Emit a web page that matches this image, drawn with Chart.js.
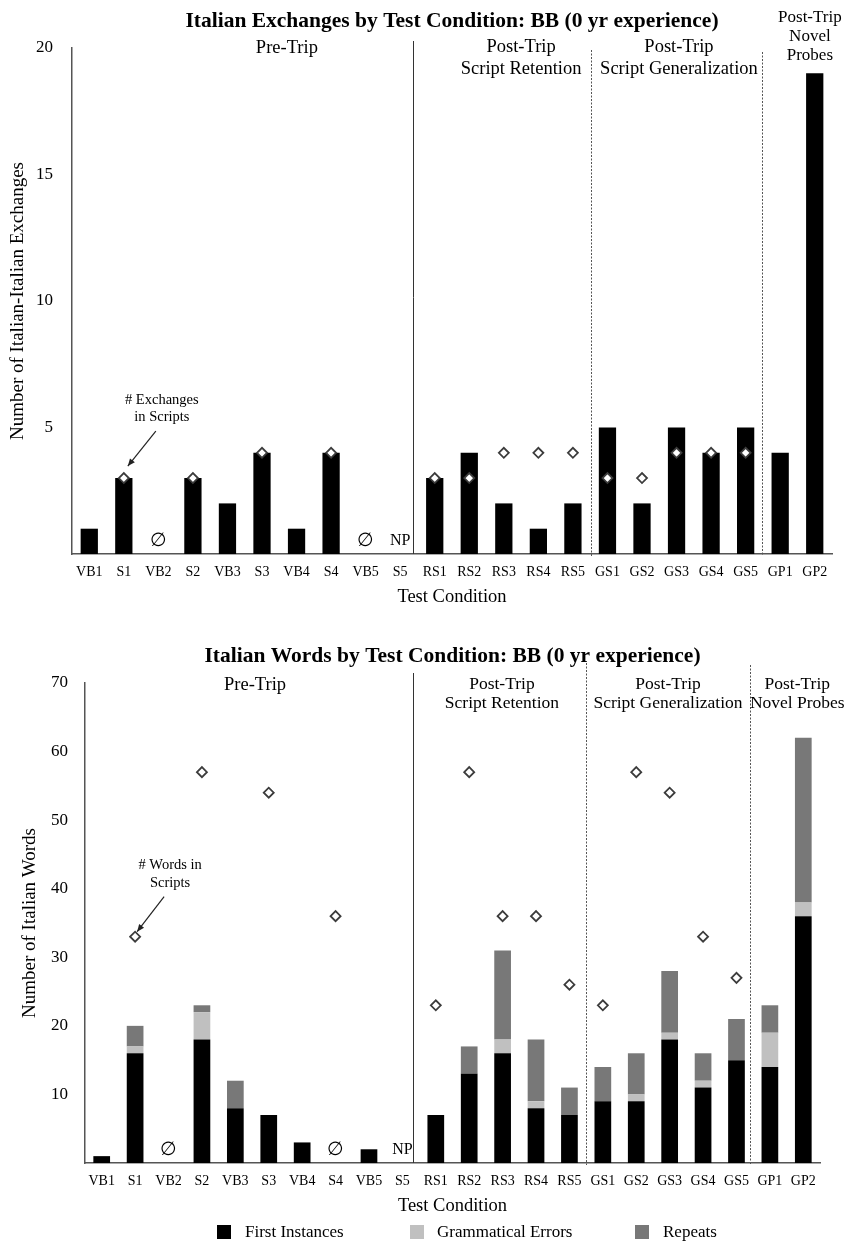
<!DOCTYPE html>
<html>
<head>
<meta charset="utf-8">
<title>Italian Exchanges and Words by Test Condition: BB</title>
<script src="https://cdn.jsdelivr.net/npm/chart.js@4.4.1/dist/chart.umd.min.js"></script>
<style>
  html, body { margin: 0; padding: 0; background: #fff; }
  #wrap { position: relative; width: 864px; height: 1243px; }
  canvas { position: absolute; left: 0; }
</style>
</head>
<body>
<div id="wrap">
  <canvas id="exchangesChart" width="864" height="620" style="top:0"></canvas>
  <canvas id="wordsChart" width="864" height="623" style="top:620px"></canvas>
</div>
<script>
// Test conditions along the x axis
const conditions = ['VB1','S1','VB2','S2','VB3','S3','VB4','S4','VB5','S5',
                    'RS1','RS2','RS3','RS4','RS5',
                    'GS1','GS2','GS3','GS4','GS5',
                    'GP1','GP2'];

// Italian-Italian exchanges produced, and exchanges contained in the scripts
const exchanges          = [1, 3, null, 3, 2, 4, 1, 4, null, null, 3, 4, 2, 1, 2, 5, 2, 5, 4, 5, 4, 19];
const exchangesInScripts = [null, 3, null, 3, null, 4, null, 4, null, null, 3, 3, 4, 4, 4, 3, 3, 4, 4, 4, null, null];
const exchangeNotes      = [null, null, '∅', null, null, null, null, null, '∅', 'NP', null, null, null, null, null, null, null, null, null, null, null, null];
const exchangeTicks      = [5, 10, 15, 20];

// Italian words produced, split by type, and words contained in the scripts
const firstInstances    = [1, 16, null, 18, 8, 7, 3, null, 2, null, 7, 13, 16, 8, 7, 9, 9, 18, 11, 15, 14, 36];
const grammaticalErrors = [0, 1, null, 4, 0, 0, 0, null, 0, null, 0, 0, 2, 1, 0, 0, 1, 1, 1, 0, 5, 2];
const repeats           = [0, 3, null, 1, 4, 0, 0, null, 0, null, 0, 4, 13, 9, 4, 5, 6, 9, 4, 6, 4, 24];
const wordsInScripts    = [null, 33, null, 57, null, 54, null, 36, null, null, 23, 57, 36, 36, 26, 23, 57, 54, 33, 27, null, null];
const wordNotes         = [null, null, '∅', null, null, null, null, '∅', null, 'NP', null, null, null, null, null, null, null, null, null, null, null, null];
const wordTicks         = [10, 20, 30, 40, 50, 60, 70];

const SERIF = "'Liberation Serif', 'Times New Roman', 'DejaVu Serif', serif";
const COLORS = { first: '#000000', gram: '#c0c0c0', repeat: '#787878', axis: '#555555' };

function font(size, weight) { return (weight || 'normal') + ' ' + size + 'px ' + SERIF; }

// Draws titles, section headers, dividers, markers, annotation and legend
function overlay(cfg) {
  return {
    id: 'overlay',
    afterDraw(chart) {
      const { ctx, chartArea: a } = chart;
      const x = chart.scales.x;
      const cx = (a.left + a.right) / 2;
      ctx.save();
      ctx.fillStyle = '#000';
      ctx.textAlign = 'center';
      ctx.textBaseline = 'middle';

      // chart title
      ctx.font = font(21.5, 'bold');
      ctx.fillText(cfg.title, cx, cfg.titleY);

      // section dividers
      cfg.dividers.forEach(d => {
        const px = Math.round(x.getPixelForValue(d.at)) + 0.5;
        ctx.beginPath();
        ctx.lineWidth = 1;
        ctx.strokeStyle = d.dotted ? '#555' : '#333';
        ctx.setLineDash(d.dotted ? [2, 1.5] : []);
        ctx.moveTo(px, d.top);
        ctx.lineTo(px, a.bottom + (d.dotted ? 2 : 0));
        ctx.stroke();
      });
      ctx.setLineDash([]);

      // section headers
      cfg.sections.forEach(s => {
        ctx.font = font(s.size);
        const px = x.getPixelForValue(s.at);
        s.lines.forEach((t, i) => ctx.fillText(t, px, s.y + i * s.gap));
      });

      // no-response / not-presented markers
      cfg.notes.forEach((n, i) => {
        if (!n) return;
        ctx.font = n === 'NP' ? font(16) : font(19);
        ctx.fillText(n, x.getPixelForValue(i), a.bottom - 13);
      });

      // annotation pointing at the first script marker
      const meta = chart.getDatasetMeta(cfg.scriptDataset);
      const pt = meta.data[1];
      const an = cfg.annotation;
      ctx.font = font(an.size);
      an.lines.forEach((t, i) => ctx.fillText(t, pt.x + an.dx, pt.y + an.dy + i * an.gap));
      const sx = pt.x + an.from[0], sy = pt.y + an.from[1];
      const ex = pt.x + an.to[0], ey = pt.y + an.to[1];
      ctx.strokeStyle = '#222';
      ctx.lineWidth = 1.2;
      ctx.beginPath();
      ctx.moveTo(sx, sy);
      ctx.lineTo(ex, ey);
      ctx.stroke();
      const ang = Math.atan2(ey - sy, ex - sx);
      ctx.beginPath();
      ctx.moveTo(ex, ey);
      ctx.lineTo(ex - 8 * Math.cos(ang - 0.4), ey - 8 * Math.sin(ang - 0.4));
      ctx.lineTo(ex - 8 * Math.cos(ang + 0.4), ey - 8 * Math.sin(ang + 0.4));
      ctx.closePath();
      ctx.fillStyle = '#222';
      ctx.fill();
      ctx.fillStyle = '#000';

      // axis titles
      ctx.font = font(18.5);
      ctx.fillText('Test Condition', cx, cfg.xTitleY);
      ctx.save();
      ctx.translate(cfg.yTitleX, (a.top + a.bottom) / 2);
      ctx.rotate(-Math.PI / 2);
      ctx.font = font(19);
      ctx.fillText(cfg.yTitle, 0, 0);
      ctx.restore();

      // legend
      if (cfg.legend) {
        ctx.font = font(17);
        ctx.textAlign = 'left';
        cfg.legend.items.forEach(it => {
          const ds = chart.data.datasets[it.dataset];
          ctx.fillStyle = ds.backgroundColor;
          ctx.fillRect(it.box, cfg.legend.y - 7, 14, 14);
          ctx.fillStyle = '#000';
          ctx.fillText(ds.label, it.text, cfg.legend.y + 1);
        });
      }
      ctx.restore();
    }
  };
}

function yScale(max, ticks, width, pad) {
  return {
    min: 0, max: max,
    grid: { display: false },
    border: { display: true, color: COLORS.axis, width: 1.5 },
    afterBuildTicks: s => { s.ticks = ticks.map(v => ({ value: v })); },
    afterFit: s => { s.width = width; },
    ticks: { font: { family: SERIF, size: 17 }, color: '#000', padding: pad }
  };
}

function xScale(height, stacked) {
  return {
    stacked: stacked,
    grid: { display: false },
    border: { display: true, color: COLORS.axis, width: 1.5 },
    afterFit: s => { s.height = height; },
    ticks: { font: { family: SERIF, size: 14 }, color: '#000', padding: 2, maxRotation: 0, autoSkip: false }
  };
}

function scriptMarkers(label, data) {
  return {
    type: 'line', label: label, data: data, stack: 'scripts',
    showLine: false, order: 0,
    pointStyle: 'rectRot', pointRadius: 5, pointHoverRadius: 5,
    pointBackgroundColor: '#ffffff', pointBorderColor: '#3c3c3c', pointBorderWidth: 1.8
  };
}

const common = {
  responsive: false,
  animation: false,
  events: [],
  plugins: { legend: { display: false }, tooltip: { enabled: false }, title: { display: false } }
};

// Exchanges chart
new Chart(document.getElementById('exchangesChart'), {
  type: 'bar',
  data: {
    labels: conditions,
    datasets: [
      { label: 'Exchanges', data: exchanges, backgroundColor: COLORS.first, order: 1,
        categoryPercentage: 1, barPercentage: 0.5 },
      scriptMarkers('# Exchanges in Scripts', exchangesInScripts)
    ]
  },
  options: Object.assign({}, common, {
    layout: { padding: { left: 32, right: 32, top: 48, bottom: 26 } },
    scales: { x: xScale(40, false), y: yScale(20, exchangeTicks, 40, 11) }
  }),
  plugins: [overlay({
    title: 'Italian Exchanges by Test Condition: BB (0 yr experience)',
    titleY: 21,
    yTitle: 'Number of Italian-Italian Exchanges',
    yTitleX: 18,
    xTitleY: 597,
    notes: exchangeNotes,
    scriptDataset: 1,
    dividers: [
      { at: 9.37, top: 41, dotted: false },
      { at: 14.52, top: 50, dotted: true },
      { at: 19.47, top: 52, dotted: true }
    ],
    sections: [
      { at: 5.72, y: 48, gap: 22, size: 18.5, lines: ['Pre-Trip'] },
      { at: 12.5, y: 47, gap: 22, size: 18.5, lines: ['Post-Trip', 'Script Retention'] },
      { at: 17.07, y: 47, gap: 22, size: 18.5, lines: ['Post-Trip', 'Script Generalization'] },
      { at: 20.86, y: 18, gap: 19, size: 17, lines: ['Post-Trip', 'Novel', 'Probes'] }
    ],
    annotation: { lines: ['# Exchanges', 'in Scripts'], size: 14.5, gap: 17,
                  dx: 38, dy: -78, from: [32, -47], to: [4, -12] }
  })]
});

// Words chart
new Chart(document.getElementById('wordsChart'), {
  type: 'bar',
  data: {
    labels: conditions,
    datasets: [
      { label: 'First Instances', data: firstInstances, backgroundColor: COLORS.first, stack: 'words', order: 1,
        categoryPercentage: 1, barPercentage: 0.5 },
      { label: 'Grammatical Errors', data: grammaticalErrors, backgroundColor: COLORS.gram, stack: 'words', order: 1,
        categoryPercentage: 1, barPercentage: 0.5 },
      { label: 'Repeats', data: repeats, backgroundColor: COLORS.repeat, stack: 'words', order: 1,
        categoryPercentage: 1, barPercentage: 0.5 },
      scriptMarkers('# Words in Scripts', wordsInScripts)
    ]
  },
  options: Object.assign({}, common, {
    layout: { padding: { left: 45, right: 44, top: 63, bottom: 40 } },
    scales: { x: xScale(40, true), y: Object.assign(yScale(70, wordTicks, 40, 9), { stacked: true }) }
  }),
  plugins: [overlay({
    title: 'Italian Words by Test Condition: BB (0 yr experience)',
    titleY: 36,
    yTitle: 'Number of Italian Words',
    yTitleX: 30,
    xTitleY: 586,
    notes: wordNotes,
    scriptDataset: 3,
    dividers: [
      { at: 9.32, top: 53, dotted: false },
      { at: 14.5, top: 43, dotted: true },
      { at: 19.4, top: 45, dotted: true }
    ],
    sections: [
      { at: 4.59, y: 65, gap: 19, size: 18.5, lines: ['Pre-Trip'] },
      { at: 11.98, y: 64, gap: 19, size: 17.5, lines: ['Post-Trip', 'Script Retention'] },
      { at: 16.95, y: 64, gap: 19, size: 17.5, lines: ['Post-Trip', 'Script Generalization'] },
      { at: 20.82, y: 64, gap: 19, size: 17.5, lines: ['Post-Trip', 'Novel Probes'] }
    ],
    annotation: { lines: ['# Words in', 'Scripts'], size: 14.5, gap: 18,
                  dx: 35, dy: -72, from: [29, -40], to: [2, -5] },
    legend: { y: 612, items: [
      { dataset: 0, box: 217, text: 245 },
      { dataset: 1, box: 410, text: 437 },
      { dataset: 2, box: 635, text: 663 }
    ] }
  })]
});
</script>
</body>
</html>
